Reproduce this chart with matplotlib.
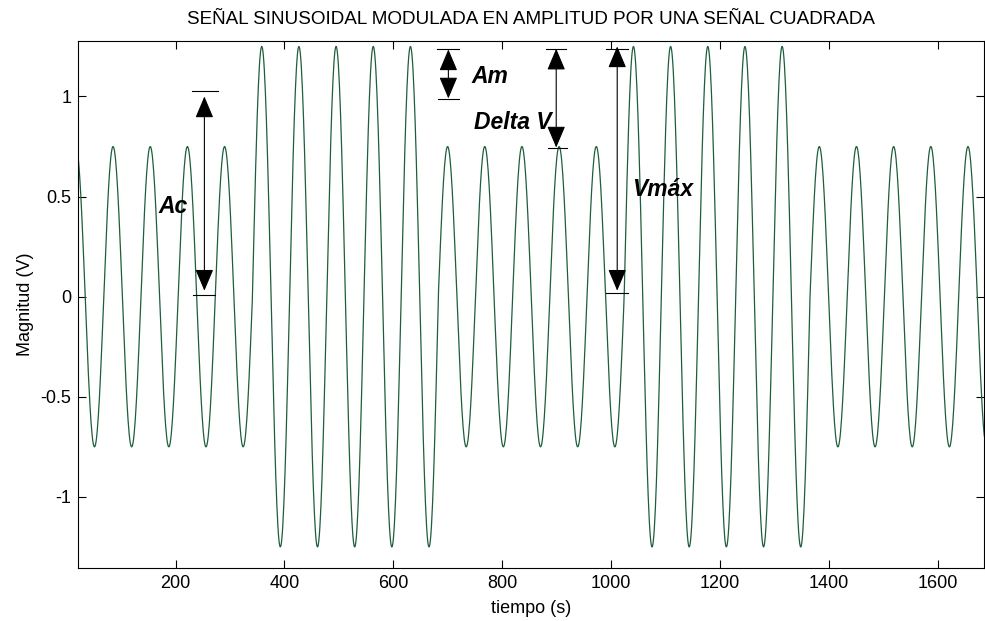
import numpy as np
import matplotlib
matplotlib.use("Agg")
import matplotlib.pyplot as plt

# Datos
periodo_portadora = 68.25          # muestras por ciclo de la portadora
ciclos_por_tramo = 5               # ciclos de portadora por medio periodo de la cuadrada
amplitud_tramos = [0.75, 1.25, 0.75, 1.25, 0.75]   # Ac - Am, Ac + Am, ...
n_muestras = 1700

x_ticks = [200, 400, 600, 800, 1000, 1200, 1400, 1600]
y_ticks = [-1, -0.5, 0, 0.5, 1]
y_tick_labels = ["-1", "-0.5", "0", "0.5", "1"]

# Señal modulada
n = np.arange(0, n_muestras + 1)
tramo = np.minimum((n // (periodo_portadora * ciclos_por_tramo)).astype(int), len(amplitud_tramos) - 1)
envolvente = np.array(amplitud_tramos)[tramo]
senal = envolvente * np.sin(2 * np.pi * n / periodo_portadora)

plt.rcParams['font.family'] = ['Liberation Sans', 'DejaVu Sans']

fig = plt.figure(figsize=(9.85, 6.21), dpi=100)
ax = fig.add_axes([0.0795, 0.0853, 0.9195, 0.849])
ax.plot(n, senal, color='#1d5e3c', lw=0.9)

ax.set_xlim(21.5, 1684.5)
ax.set_ylim(-1.355, 1.278)
ax.set_xticks(x_ticks)
ax.set_xticklabels([str(v) for v in x_ticks])
ax.set_yticks(y_ticks)
ax.set_yticklabels(y_tick_labels)
ax.tick_params(direction='in', length=6, width=0.8, labelsize=13, pad=5,
               top=True, right=True)
for s in ax.spines.values():
    s.set_linewidth(0.8)

ax.set_title("SEÑAL SINUSOIDAL MODULADA EN AMPLITUD POR UNA SEÑAL CUADRADA", fontsize=13.6, pad=12)
ax.set_xlabel("tiempo (s)", fontsize=13, labelpad=6)
ax.set_ylabel("Magnitud (V)", fontsize=13, labelpad=5)

# Cotas
def cota(x, y0, y1, x_izq0, x_der0, x_izq1, x_der1, lim0, lim1):
    ax.plot([x_izq0, x_der0], [lim0, lim0], color='k', lw=0.8)
    ax.plot([x_izq1, x_der1], [lim1, lim1], color='k', lw=0.8)
    ax.annotate('', xy=(x, y1), xytext=(x, y0),
                arrowprops=dict(arrowstyle='<|-|>,head_length=0.45,head_width=0.19',
                                color='k', lw=0.8, mutation_scale=30,
                                shrinkA=0, shrinkB=0))

cota(253, 0.03, 1.0, 233, 273, 230, 278, 0.008, 1.025)      # Ac
cota(701, 0.99, 1.235, 682, 720, 680, 720, 0.988, 1.2385)   # Am
cota(899, 0.745, 1.2385, 884, 919, 881, 917, 0.742, 1.2385) # Delta V
cota(1011, 0.03, 1.25, 991, 1031, 990, 1031, 0.017, 1.2385) # Vmax

estilo = dict(fontsize=16.5, fontweight='bold', fontstyle='italic', va='center', ha='left')
ax.text(168, 0.45, "Ac", **estilo)
ax.text(744, 1.1, "Am", **estilo)
ax.text(748, 0.87, "Delta V", **estilo)
ax.text(1038, 0.534, "Vmáx", **estilo)

fig.savefig("out.png", dpi=100)
